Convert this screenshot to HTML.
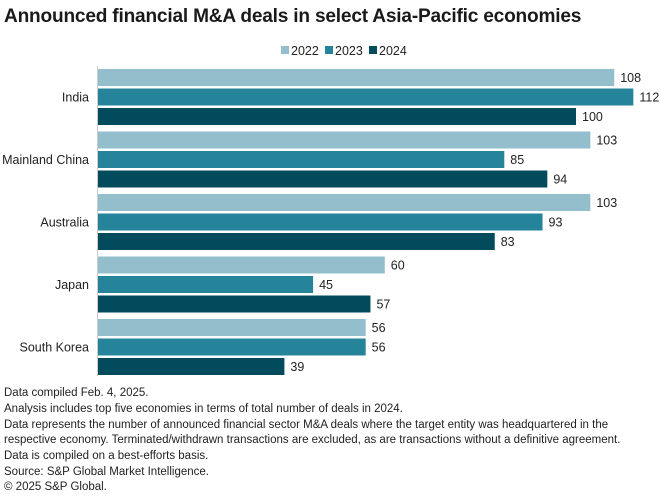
<!DOCTYPE html>
<html><head><meta charset="utf-8"><style>
body{margin:0;background:#fff;font-family:"Liberation Sans",sans-serif;}
#wrap{position:relative;width:660px;height:503px;overflow:hidden;}
.title{position:absolute;left:4px;top:6px;font-size:19.1px;font-weight:bold;color:#1a1a1a;letter-spacing:-0.2px}
.foot{position:absolute;left:4px;font-size:11.5px;color:#222;white-space:nowrap}
</style></head><body>
<div id="wrap">
<div class="title">Announced financial M&amp;A deals in select Asia-Pacific economies</div>
<svg id="chart" width="660" height="385" style="position:absolute;left:0;top:0"></svg>
<div class="foot" style="top:387px">Data compiled Feb. 4, 2025.</div>
<div class="foot" style="top:403px">Analysis includes top five economies in terms of total number of deals in 2024.</div>
<div class="foot" style="top:419px">Data represents the number of announced financial sector M&amp;A deals where the target entity was headquartered in the</div>
<div class="foot" style="top:434px">respective economy. Terminated/withdrawn transactions are excluded, as are transactions without a definitive agreement.</div>
<div class="foot" style="top:450px">Data is compiled on a best-efforts basis.</div>
<div class="foot" style="top:466px">Source: S&amp;P Global Market Intelligence.</div>
<div class="foot" style="top:481px">© 2025 S&amp;P Global.</div>
</div>
<script>
const categories=["India","Mainland China","Australia","Japan","South Korea"];
const seriesNames=["2022","2023","2024"];
const s2022=[108,103,103,60,56];
const s2023=[112,85,93,45,56];
const s2024=[100,94,83,57,39];
const colors=["#93bfcc","#25849a","#024b5c"];
const svg=document.getElementById('chart');
const NS="http://www.w3.org/2000/svg";
const x0=98, pxPer=4.78;
const xScale=v=>x0+v*pxPer;
const groupTop=69, groupStep=62.5, barStep=19.5, barH=17;
function mk(tag,attrs){const e=document.createElementNS(NS,tag);for(const k in attrs)e.setAttribute(k,attrs[k]);svg.appendChild(e);return e;}
const all=[s2022,s2023,s2024];
categories.forEach((c,i)=>{
  const gy=groupTop+i*groupStep;
  all.forEach((ser,j)=>{
    const y=gy+j*barStep;
    const r=mk('rect',{x:x0,y:y,width:xScale(ser[i])-x0,height:barH,fill:colors[j]});
    
    
    const t=mk('text',{x:xScale(ser[i])+6,y:y+barH/2+4.5,'font-size':'12.5',fill:'#222'});
    t.textContent=ser[i];
    
    
  });
  const lt=mk('text',{x:89,y:gy+barStep+barH/2+4.5,'font-size':'12.5',fill:'#222','text-anchor':'end'});
  lt.textContent=c;
  
  
});
const ax=mk('line',{x1:x0-0.5,x2:x0-0.5,y1:66,y2:376,stroke:'#ccc','stroke-width':1});


const legX=[281,325,369];
seriesNames.forEach((n,j)=>{
  const r=mk('rect',{x:legX[j],y:46,width:8,height:8,fill:colors[j]});
  
  
  const t=mk('text',{x:legX[j]+10,y:55,'font-size':'12.5',fill:'#222'});
  t.textContent=n;
  
  
});
</script>
</body></html>
